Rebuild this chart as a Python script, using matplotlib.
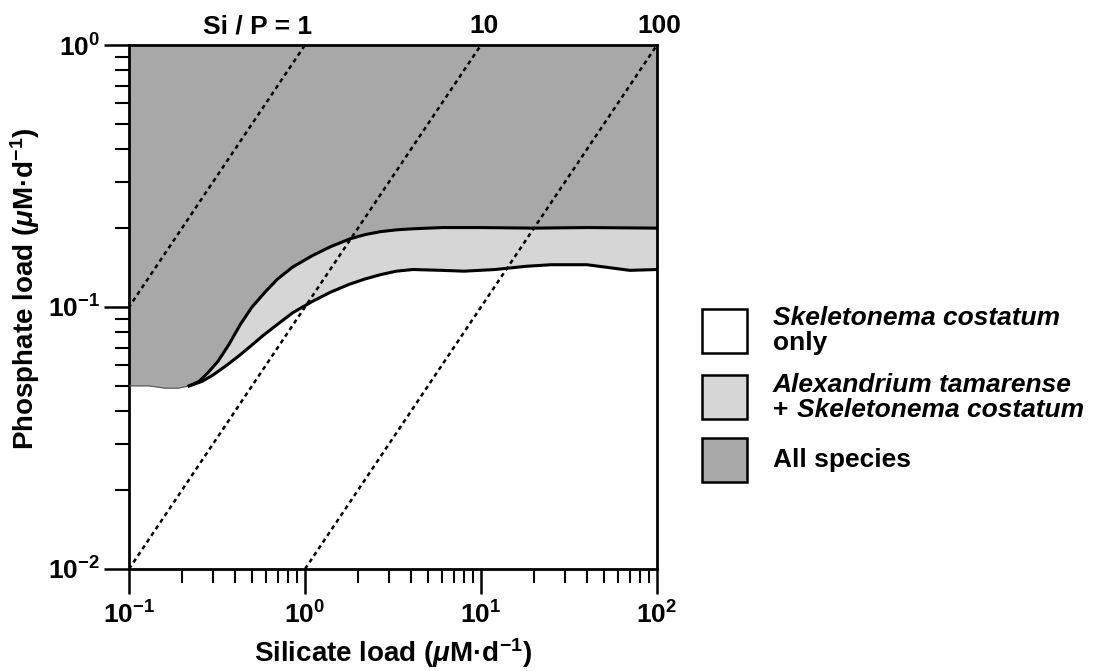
import numpy as np
import matplotlib
matplotlib.use("Agg")
import matplotlib.pyplot as plt
from matplotlib.patches import Rectangle
from matplotlib.ticker import LogLocator, NullFormatter, FixedLocator

# boundary of the "all species" region (upper curve)
upper_si = [0.1, 0.13, 0.16, 0.19, 0.22, 0.25, 0.28, 0.32, 0.37, 0.43, 0.5, 0.6,
            0.7, 0.85, 1.1, 1.4, 1.8, 2.2, 2.7, 3.3, 4.2, 6, 10, 20, 40, 100]
upper_p = [0.050, 0.050, 0.049, 0.049, 0.050, 0.052, 0.056, 0.062, 0.072, 0.086,
           0.100, 0.115, 0.128, 0.142, 0.157, 0.170, 0.182, 0.189, 0.194, 0.197,
           0.199, 0.201, 0.201, 0.200, 0.201, 0.200]

# boundary of the "Skeletonema only" region (lower curve)
lower_si = [0.22, 0.26, 0.3, 0.36, 0.42, 0.48, 0.58, 0.7, 0.85, 1.1, 1.4, 1.78,
            2.2, 2.7, 3.3, 4.1, 6, 8, 12, 18, 25, 40, 55, 70, 100]
lower_p = [0.050, 0.052, 0.055, 0.060, 0.065, 0.070, 0.078, 0.086, 0.095, 0.105,
           0.114, 0.122, 0.128, 0.133, 0.137, 0.139, 0.138, 0.137, 0.139, 0.143,
           0.145, 0.145, 0.141, 0.138, 0.139]

# Si/P ratio lines and their top labels
ratios = [1, 10, 100]
ratio_labels = ["Si / P = 1", "10", "100"]

x_ticks = [0.1, 1, 10, 100]
x_ticklabels = [r"$10^{-1}$", r"$10^{0}$", r"$10^{1}$", r"$10^{2}$"]
y_ticks = [0.01, 0.1, 1]
y_ticklabels = [r"$10^{-2}$", r"$10^{-1}$", r"$10^{0}$"]

legend_labels = [("Skeletonema costatum", "only"),
                 ("Alexandrium tamarense", "Skeletonema costatum"),
                 ("All species",)]

dark = "#a8a8a8"
light = "#d6d6d6"

plt.rcParams["font.family"] = ["Liberation Sans", "DejaVu Sans"]
plt.rcParams["font.weight"] = "bold"
plt.rcParams["mathtext.fontset"] = "custom"
plt.rcParams["mathtext.rm"] = "Liberation Sans:bold"
plt.rcParams["mathtext.bf"] = "Liberation Sans:bold"
plt.rcParams["mathtext.it"] = "Liberation Sans:bold:italic"
plt.rcParams["mathtext.default"] = "rm"

W, H = 1112, 671
fig = plt.figure(figsize=(W / 100, H / 100), dpi=100)
ax = fig.add_axes([129 / W, 1 - 569 / H, 528 / W, 524 / H])
ax.set_xscale("log")
ax.set_yscale("log")
ax.set_xlim(0.1, 100)
ax.set_ylim(0.01, 1)

# regions
ax.fill_between(upper_si, upper_p, 1, color=dark, lw=0, zorder=1)
start = next(i for i, s in enumerate(upper_si) if s >= lower_si[0])
band_x = list(upper_si[start:]) + list(lower_si[::-1])
band_y = list(upper_p[start:]) + list(lower_p[::-1])
ax.fill(band_x, band_y, color=light, lw=0, zorder=2)

# boundaries
ax.plot(upper_si[:start + 1], upper_p[:start + 1], color="#555555", lw=0.8, zorder=3)
ax.plot(upper_si[start:], upper_p[start:], color="black", lw=2.2, zorder=4,
        solid_joinstyle="round")
ax.plot(lower_si, lower_p, color="black", lw=2.2, zorder=4, solid_joinstyle="round")

# Si/P ratio lines
ylo, yhi = ax.get_ylim()
for r, lab in zip(ratios, ratio_labels):
    ax.plot([r * ylo, r * yhi], [ylo, yhi], color="black", lw=1.8,
            linestyle=(0, (1.7, 1.5)), zorder=5, clip_on=True)
    if r == ratios[0]:
        ax.annotate(lab, xy=(r * yhi, yhi), xytext=(5, 5), textcoords="offset points",
                    ha="right", va="bottom", fontsize=19, fontweight="bold",
                    annotation_clip=False)
    else:
        ax.annotate(lab, xy=(r * yhi, yhi), xytext=(2, 5), textcoords="offset points",
                    ha="center", va="bottom", fontsize=19, fontweight="bold",
                    annotation_clip=False)

# axes styling
for sp in ax.spines.values():
    sp.set_linewidth(2.0)
ax.xaxis.set_major_locator(FixedLocator(x_ticks))
ax.yaxis.set_major_locator(FixedLocator(y_ticks))
ax.set_xticklabels(x_ticklabels)
ax.set_yticklabels(y_ticklabels)
ax.xaxis.set_minor_locator(LogLocator(base=10, subs=np.arange(2, 10)))
ax.yaxis.set_minor_locator(LogLocator(base=10, subs=np.arange(2, 10)))
ax.xaxis.set_minor_formatter(NullFormatter())
ax.yaxis.set_minor_formatter(NullFormatter())
ax.tick_params(which="major", direction="out", length=18, width=1.8,
               labelsize=19)
ax.tick_params(axis="x", which="major", pad=5)
ax.tick_params(axis="y", which="major", pad=3)
ax.tick_params(which="minor", direction="out", length=10, width=1.5)
ax.tick_params(top=False, right=False)

ax.set_xlabel(r"Silicate load ($\mathit{\mu}$M·d$^{-1}$)", fontsize=20, fontweight="bold")
ax.set_ylabel(r"Phosphate load ($\mathit{\mu}$M·d$^{-1}$)", fontsize=20, fontweight="bold")
ax.xaxis.set_label_coords(0.5, -0.128)
ax.yaxis.set_label_coords(-0.165, 0.535)

# legend drawn by hand
boxes = [(309, "white"), (375, light), (438, dark)]
for top, fc in boxes:
    fig.add_artist(Rectangle((702 / W, 1 - (top + 44) / H), 45 / W, 44 / H,
                             transform=fig.transFigure, facecolor=fc,
                             edgecolor="black", lw=1.8))

tx = 773 / W
fig.text(tx, 1 - 318 / H, legend_labels[0][0], fontsize=19, style="italic",
         fontweight="bold", va="center")
fig.text(tx, 1 - 343 / H, legend_labels[0][1], fontsize=19, fontweight="bold",
         va="center")
fig.text(tx, 1 - 385 / H, legend_labels[1][0], fontsize=19, style="italic",
         fontweight="bold", va="center")
fig.text(tx, 1 - 410 / H, "+", fontsize=19, fontweight="bold", va="center")
fig.text(797 / W, 1 - 410 / H, legend_labels[1][1], fontsize=19, style="italic",
         fontweight="bold", va="center")
fig.text(tx, 1 - 460 / H, legend_labels[2][0], fontsize=19, fontweight="bold",
         va="center")

fig.savefig("out.png", dpi=100)
plt.close(fig)
